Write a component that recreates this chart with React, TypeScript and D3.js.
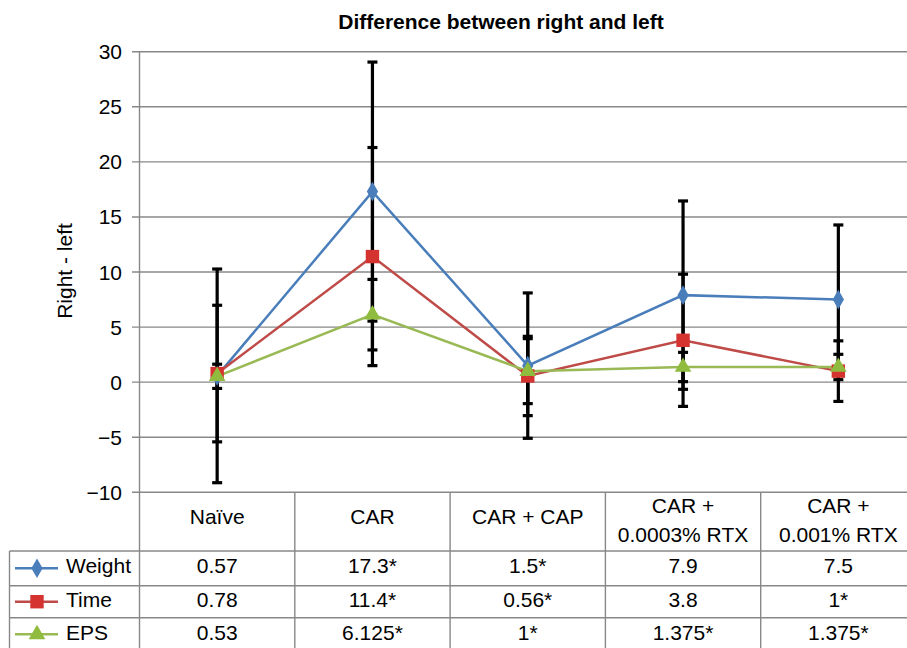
import * as d3 from "d3";
import React, { useEffect, useRef } from "react";

const categories = ["Naïve", "CAR", "CAR + CAP", "CAR + 0.0003% RTX", "CAR + 0.001% RTX"];
const headerLines = [["Naïve"], ["CAR"], ["CAR + CAP"], ["CAR +", "0.0003% RTX"], ["CAR +", "0.001% RTX"]];

const weight = [0.57, 17.3, 1.5, 7.9, 7.5];
const weightErr = [9.7, 11.76, 6.6, 8.55, 6.77];
const weightLabels = ["0.57", "17.3*", "1.5*", "7.9", "7.5"];

const time = [0.78, 11.4, 0.56, 3.8, 1];
const timeErr = [6.2, 9.9, 3.6, 6.0, 2.75];
const timeLabels = ["0.78", "11.4*", "0.56*", "3.8", "1*"];

const eps = [0.53, 6.125, 1, 1.375, 1.375];
const epsErr = [1.1, 3.2, 2.95, 1.33, 1.15];
const epsLabels = ["0.53", "6.125*", "1*", "1.375*", "1.375*"];

const yTicks = [-10, -5, 0, 5, 10, 15, 20, 25, 30];

const series = [
  { name: "Weight", values: weight, err: weightErr, labels: weightLabels, line: "#4a7ebb", fill: "#4a7ebb", shape: "diamond" },
  { name: "Time", values: time, err: timeErr, labels: timeLabels, line: "#be4b48", fill: "#d5332f", shape: "square" },
  { name: "EPS", values: eps, err: epsErr, labels: epsLabels, line: "#98b954", fill: "#8fbc3f", shape: "triangle" },
];

function App() {
  const ref = useRef(null);

  useEffect(() => {
    const width = 907;
    const height = 648;
    const font = "'Liberation Sans', Arial, sans-serif";
    const grid = "#888888";

    const x = d3.scaleBand().domain(categories).range([139.5, 916]);
    const cx = (c) => x(c) + x.bandwidth() / 2;
    const y = d3.scaleLinear().domain([-10, 30]).range([492.3, 51.7]);

    d3.select(ref.current).selectAll("*").remove();
    const svg = d3
      .select(ref.current)
      .append("svg")
      .attr("width", width)
      .attr("height", height)
      .style("position", "absolute")
      .style("left", 0)
      .style("top", 0)
      .style("font-family", font);

    svg.append("rect").attr("width", width).attr("height", height).attr("fill", "#fff");

    // title
    svg
      .append("text")
      .attr("x", 501)
      .attr("y", 29)
      .attr("text-anchor", "middle")
      .attr("font-weight", "bold")
      .attr("font-size", 21)
      .text("Difference between right and left");

    // y axis label
    svg
      .append("text")
      .attr("transform", "translate(72,271) rotate(-90)")
      .attr("text-anchor", "middle")
      .attr("font-size", 21)
      .text("Right - left");

    // gridlines
    svg
      .append("g")
      .selectAll("line")
      .data(yTicks)
      .enter()
      .append("line")
      .attr("x1", 132)
      .attr("x2", 916)
      .attr("y1", (d) => y(d))
      .attr("y2", (d) => y(d))
      .attr("stroke", grid)
      .attr("stroke-width", 1.4);

    svg
      .append("g")
      .selectAll("text")
      .data(yTicks)
      .enter()
      .append("text")
      .attr("x", 122)
      .attr("y", (d) => y(d))
      .attr("dy", "0.36em")
      .attr("text-anchor", "end")
      .attr("font-size", 21)
      .text((d) => (d < 0 ? "\u2212" + Math.abs(d) : d));

    svg
      .append("line")
      .attr("x1", 139.5)
      .attr("x2", 139.5)
      .attr("y1", y(30))
      .attr("y2", 648)
      .attr("stroke", grid)
      .attr("stroke-width", 1.4);

    // table
    const rowTops = [551, 585.7, 617.7, 651];
    const tbl = svg.append("g");
    categories.slice(1).forEach((c) => {
      tbl
        .append("line")
        .attr("x1", x(c))
        .attr("x2", x(c))
        .attr("y1", y(-10))
        .attr("y2", 648)
        .attr("stroke", grid)
        .attr("stroke-width", 1.4);
    });
    tbl
      .append("line")
      .attr("x1", 9.5)
      .attr("x2", 9.5)
      .attr("y1", rowTops[0])
      .attr("y2", 648)
      .attr("stroke", grid)
      .attr("stroke-width", 1.4);
    rowTops.slice(0, 3).forEach((t) => {
      tbl
        .append("line")
        .attr("x1", 9.5)
        .attr("x2", 916)
        .attr("y1", t)
        .attr("y2", t)
        .attr("stroke", grid)
        .attr("stroke-width", 1.4);
    });

    headerLines.forEach((lines, i) => {
      const c = categories[i];
      const baselines = lines.length === 1 ? [524] : [513, 541.5];
      lines.forEach((l, j) => {
        tbl
          .append("text")
          .attr("x", cx(c))
          .attr("y", baselines[j])
          .attr("text-anchor", "middle")
          .attr("font-size", 21)
          .text(l);
      });
    });

    const sym = {
      diamond: d3.symbol().type(d3.symbolDiamond).size(110),
      square: d3.symbol().type(d3.symbolSquare).size(180),
      triangle: d3.symbol().type(d3.symbolTriangle).size(120),
    };

    const rowBase = [573.3, 606.7, 640];
    series.forEach((s, r) => {
      const mid = (rowTops[r] + rowTops[r + 1]) / 2;
      tbl
        .append("line")
        .attr("x1", 15)
        .attr("x2", 58)
        .attr("y1", mid)
        .attr("y2", mid)
        .attr("stroke", s.line)
        .attr("stroke-width", 2.5);
      tbl
        .append("path")
        .attr("d", sym[s.shape]())
        .attr("transform", `translate(37,${mid})`)
        .attr("fill", s.fill);
      tbl
        .append("text")
        .attr("x", 66)
        .attr("y", rowBase[r])
        .attr("font-size", 21)
        .text(s.name);
      s.labels.forEach((lab, i) => {
        tbl
          .append("text")
          .attr("x", cx(categories[i]))
          .attr("y", rowBase[r])
          .attr("text-anchor", "middle")
          .attr("font-size", 21)
          .text(lab);
      });
    });

    // lines
    const line = d3
      .line()
      .x((d, i) => cx(categories[i]))
      .y((d) => y(d));

    series.forEach((s) => {
      svg
        .append("path")
        .datum(s.values)
        .attr("d", line)
        .attr("fill", "none")
        .attr("stroke", s.line)
        .attr("stroke-width", 2.5);
    });

    // error bars
    const eb = svg.append("g").attr("stroke", "#000").attr("stroke-width", 3.2);
    series.forEach((s) => {
      s.values.forEach((v, i) => {
        const px = cx(categories[i]);
        const hi = y(v + s.err[i]);
        const lo = y(v - s.err[i]);
        eb.append("line").attr("x1", px).attr("x2", px).attr("y1", hi).attr("y2", lo);
        [hi, lo].forEach((py) => {
          eb.append("line").attr("x1", px - 5).attr("x2", px + 5).attr("y1", py).attr("y2", py);
        });
      });
    });

    // markers
    series.forEach((s) => {
      svg
        .append("g")
        .selectAll("path")
        .data(s.values)
        .enter()
        .append("path")
        .attr("d", sym[s.shape]())
        .attr("transform", (d, i) => `translate(${cx(categories[i])},${y(d)})`)
        .attr("fill", s.fill);
    });
  }, []);

  return <div ref={ref} />;
}

export default App;
